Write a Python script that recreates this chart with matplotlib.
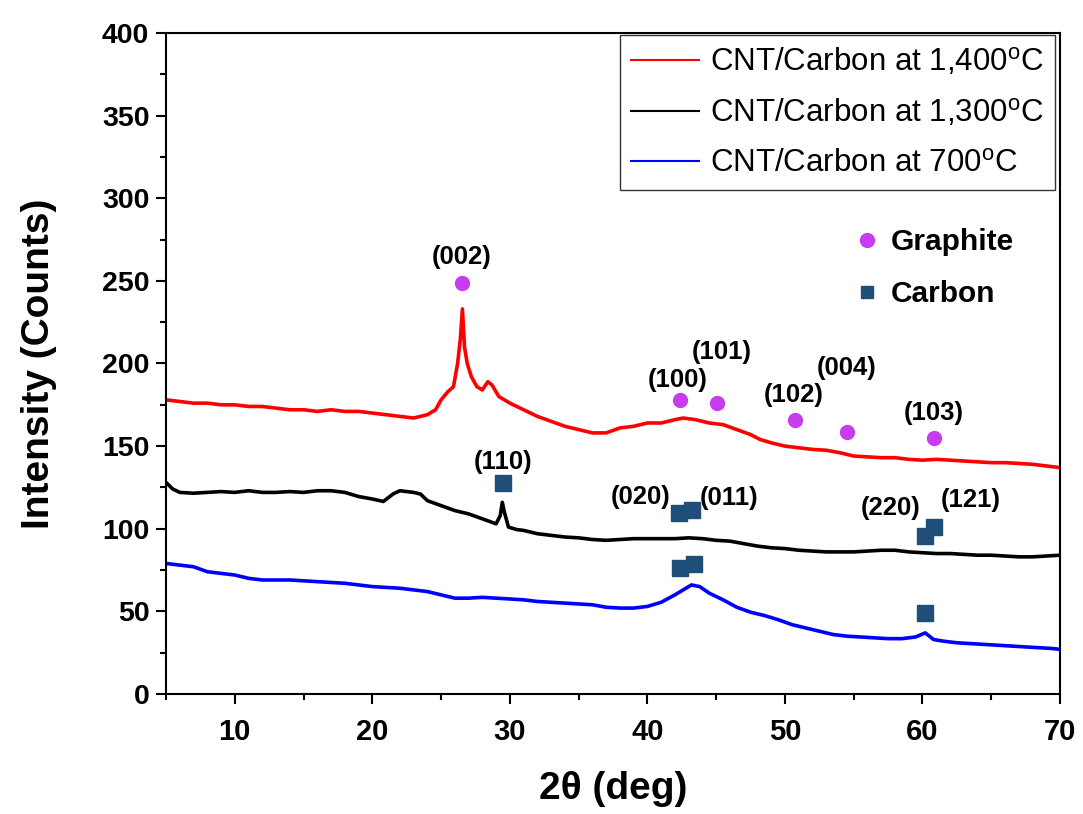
import numpy as np
import matplotlib
matplotlib.use("Agg")
import matplotlib.pyplot as plt
from matplotlib.lines import Line2D
from matplotlib.ticker import MultipleLocator

plt.rcParams['font.family'] = ['Liberation Sans', 'DejaVu Sans']
plt.rcParams['mathtext.fontset'] = 'custom'
plt.rcParams['mathtext.rm'] = 'Liberation Sans'

# ---- XRD patterns (2theta in deg, intensity in counts) ----
tt_1400 = [5, 6, 7, 8, 9, 10, 11, 12, 13, 14, 15, 16, 17, 18, 19, 20, 21, 22, 23, 24,
           24.6, 25.0, 25.5, 25.9, 26.2, 26.4, 26.55, 26.7, 26.9, 27.2, 27.6, 28.0, 28.4,
           28.7, 29.2, 30, 31, 32, 33, 34, 35, 36, 37, 38, 39, 40, 41, 42, 42.6, 43.5,
           44.5, 45.5, 46.5, 47.5, 48.2, 49, 50, 51, 52, 53, 54, 55, 56, 57, 58, 59, 60,
           61, 62, 63, 64, 65, 66, 67, 68, 69, 70]
int_1400 = [178, 177, 176, 176, 175, 175, 174, 174, 173, 172, 172, 171, 172, 171, 171, 170,
            169, 168, 167, 169, 172, 178, 183, 186, 200, 215, 233, 210, 200, 192, 186, 184,
            189, 187, 180, 176, 172, 168, 165, 162, 160, 158, 158, 161, 162, 164, 164, 166,
            167, 166, 164, 163, 160, 157, 154, 152, 150, 149, 148, 147.5, 146, 144, 143.5,
            143, 143, 142, 141.5, 142, 141.5, 141, 140.5, 140, 140, 139.5, 139, 138, 137]

tt_1300 = [5, 5.5, 6, 7, 8, 9, 10, 11, 12, 13, 14, 15, 16, 17, 18, 19, 20, 20.8, 21.5, 22,
           23, 23.5, 24, 25, 26, 27, 28, 29, 29.3, 29.45, 29.6, 29.9, 30.5, 31, 32, 33, 34,
           35, 36, 37, 38, 39, 40, 41, 42, 43, 44, 45, 46, 47, 48, 49, 50, 51, 52, 53, 54,
           55, 56, 57, 58, 59, 60, 61, 62, 63, 64, 65, 66, 67, 68, 69, 70]
int_1300 = [128, 124, 122, 121.5, 122, 122.5, 122, 123, 122, 122, 122.5, 122, 123, 123, 122,
            119.5, 118, 116.5, 121, 123, 122, 121, 117, 114, 111, 109, 106, 103, 108, 116,
            110, 101, 99.5, 99, 97, 96, 95, 94.5, 93.5, 93, 93.5, 94, 94, 94, 94, 94.5, 94,
            93, 92.5, 91, 89.5, 88.5, 88, 87, 86.5, 86, 86, 86, 86.5, 87, 87, 86, 85.5, 85,
            85, 84.5, 84, 84, 83.5, 83, 83, 83.5, 84]

tt_700 = [5, 6, 7, 8, 9, 10, 11, 12, 13, 14, 15, 16, 17, 18, 19, 20, 21, 22, 23, 24, 25,
          26, 27, 28, 29, 30, 31, 32, 33, 34, 35, 36, 37, 38, 39, 40, 41, 42, 42.6, 43.2,
          43.8, 44.5, 45.5, 46.5, 47.5, 48.5, 49.5, 50.5, 51.5, 52.5, 53.5, 54.5, 55.5,
          56.5, 57.5, 58.5, 59.5, 60.2, 60.8, 61.5, 62.5, 63.5, 64.5, 65.5, 66.5, 67.5,
          68.5, 69.5, 70]
int_700 = [79, 78, 77, 74, 73, 72, 70, 69, 69, 69, 68.5, 68, 67.5, 67, 66, 65, 64.5, 64, 63,
           62, 60, 58, 58, 58.5, 58, 57.5, 57, 56, 55.5, 55, 54.5, 54, 52.5, 52, 52, 53, 55.5,
           60, 63, 66, 65, 61, 57, 52.5, 49.5, 47.5, 45, 42, 40, 38, 36, 35, 34.5, 34, 33.5,
           33.5, 34.5, 37, 33, 32, 31, 30.5, 30, 29.5, 29, 28.5, 28, 27.5, 27]

series_labels = [r'CNT/Carbon at 1,400$^{\mathrm{o}}$C',
                 r'CNT/Carbon at 1,300$^{\mathrm{o}}$C',
                 r'CNT/Carbon at 700$^{\mathrm{o}}$C']

# ---- peak markers ----
graphite_tt = [26.5, 42.4, 45.05, 50.75, 54.5, 60.8]
graphite_int = [248.5, 178, 176.3, 165.8, 158.7, 154.7]
graphite_hkl = ['(002)', '(100)', '(101)', '(102)', '(004)', '(103)']

carbon_tt = [29.53, 42.3, 43.25, 60.2, 60.8, 42.4, 43.4, 60.2]
carbon_int = [127.5, 109.5, 111.3, 95.8, 101, 76.4, 78.5, 49]
carbon_hkl = ['(110)', '(020)', '(011)', '(220)', '(121)']

# label anchor points (layout only)
graphite_lbl_xy = [(26.5, 264.6), (42.2, 190), (45.4, 207), (50.6, 181), (54.5, 197), (60.8, 170)]
carbon_lbl_xy = [(29.5, 140.5), (39.5, 119.4), (45.9, 118.5), (57.65, 112.6), (63.5, 117.4)]

MAGENTA = '#c83cf0'
NAVY = '#1f4e79'

fig = plt.figure(figsize=(10.83, 8.14), dpi=100)
ax = fig.add_axes([0.1533, 0.1474, 0.8255, 0.8121])

ax.plot(tt_1400, int_1400, color='#ff0000', lw=2.6, label=series_labels[0])
ax.plot(tt_1300, int_1300, color='black', lw=2.6, label=series_labels[1])
ax.plot(tt_700, int_700, color='#0000ff', lw=2.6, label=series_labels[2])

ax.plot(graphite_tt, graphite_int, 'o', color=MAGENTA, ms=10, ls='none')
ax.plot(carbon_tt, carbon_int, 's', color=NAVY, ms=11, ls='none')

for (x, y), t in zip(graphite_lbl_xy, graphite_hkl):
    ax.text(x, y, t, ha='center', va='center', fontsize=18.5, fontweight='bold')
for (x, y), t in zip(carbon_lbl_xy, carbon_hkl):
    ax.text(x, y, t, ha='center', va='center', fontsize=18.5, fontweight='bold')

ax.set_xlim(5, 70)
ax.set_ylim(0, 400)
ax.xaxis.set_major_locator(MultipleLocator(10))
ax.xaxis.set_minor_locator(MultipleLocator(5))
ax.yaxis.set_major_locator(MultipleLocator(50))
ax.yaxis.set_minor_locator(MultipleLocator(25))
ax.tick_params(which='both', direction='out', width=1.5, top=False, right=False)
ax.tick_params(which='major', length=7)
ax.tick_params(which='minor', length=4.5)
ax.tick_params(axis='x', pad=10)
ax.tick_params(axis='y', pad=5)
for s in ax.spines.values():
    s.set_linewidth(1.5)

for lab in ax.get_xticklabels():
    lab.set_fontweight('bold')
    lab.set_fontsize(21)
for lab in ax.get_yticklabels():
    lab.set_fontweight('bold')
    lab.set_fontsize(20.5)

ax.set_xlabel('2θ (deg)', fontsize=28, fontweight='bold', labelpad=18)
ax.set_ylabel('Intensity (Counts)', fontsize=28, fontweight='bold', labelpad=32)

leg1 = ax.legend(loc='upper right', bbox_to_anchor=(0.9944, 0.997), borderaxespad=0,
                 fontsize=22.5, frameon=True, fancybox=False, edgecolor='black',
                 handlelength=2.2, handletextpad=0.35, labelspacing=0.62,
                 borderpad=0.35)
leg1.get_frame().set_linewidth(1.0)
for h in leg1.get_lines():
    h.set_linewidth(1.5)
ax.add_artist(leg1)

marker_handles = [Line2D([], [], marker='o', color=MAGENTA, ls='none', ms=10),
                  Line2D([], [], marker='s', color=NAVY, ls='none', ms=9)]
leg2 = ax.legend(marker_handles, ['Graphite', 'Carbon'], loc='upper left',
                 bbox_to_anchor=(0.737, 0.745), frameon=False,
                 prop={'size': 21.5, 'weight': 'bold'}, handlelength=1.0,
                 handletextpad=0.3, labelspacing=0.8)

fig.savefig('out.png', dpi=100)
